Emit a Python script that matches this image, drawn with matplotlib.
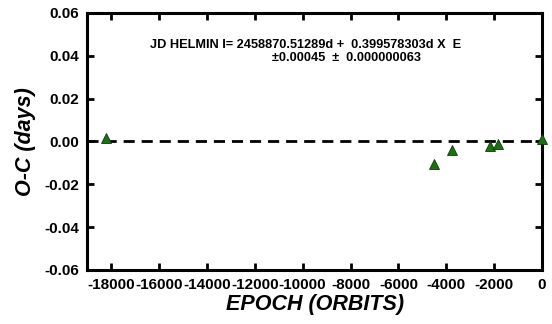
import matplotlib
matplotlib.use("Agg")
import matplotlib.pyplot as plt
import numpy as np

plt.rcParams['font.family'] = ['Liberation Sans', 'DejaVu Sans']

# O-C data
epoch = [-18200, -4510, -3780, -2170, -1830, 0]
oc = [0.0015, -0.0104, -0.0042, -0.0022, -0.0014, 0.0012]

xticks = np.arange(-18000, 1, 2000)
yticks = [-0.06, -0.04, -0.02, 0.00, 0.02, 0.04, 0.06]

fig = plt.figure(figsize=(5.52, 3.24), dpi=100)
ax = fig.add_axes([0.158, 0.167, 0.824, 0.793])

ax.axhline(0, color='black', lw=2.0, ls=(0, (4, 2.5)), zorder=1)
ax.plot(epoch, oc, ls='none', marker='^', ms=7.5, mfc='#1e6e14', mec='#0d3d08', mew=0.6, zorder=3, clip_on=False)

ax.set_xlim(-19000, 0)
ax.set_ylim(-0.06, 0.06)
ax.set_xticks(xticks)
ax.set_xticklabels([str(v) for v in xticks])
ax.set_yticks(yticks)
ax.set_yticklabels(['%.2f' % v for v in yticks])

for s in ax.spines.values():
    s.set_linewidth(2.2)
ax.tick_params(direction='in', length=5, width=2, top=True, right=True, labelsize=11, pad=6)
for lab in ax.get_xticklabels() + ax.get_yticklabels():
    lab.set_fontweight('bold')

ax.set_xlabel('EPOCH (ORBITS)', fontsize=15.5, fontweight='bold', fontstyle='italic', labelpad=1)
ax.set_ylabel('O-C (days)', fontsize=15.5, fontweight='bold', fontstyle='italic', labelpad=6)

ax.text(0.138, 0.875, 'JD HELMIN I= 2458870.51289d +  0.399578303d X  E', transform=ax.transAxes,
        fontsize=9.2, fontweight='bold', ha='left', va='center')
ax.text(0.407, 0.825, '\u00b10.00045  \u00b1  0.000000063', transform=ax.transAxes,
        fontsize=9.2, fontweight='bold', ha='left', va='center')

fig.savefig('out.png', dpi=100)
